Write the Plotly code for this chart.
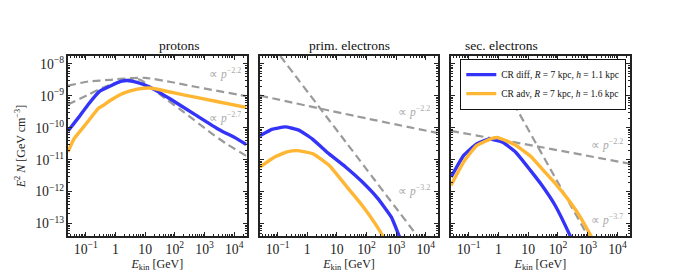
import plotly.graph_objects as go

# ---------------- data (log10 values) ----------------
# protons
pr_diff_logE = [-1.6, -1.248, -0.919, -0.538, -0.153, 0.176, 0.397, 0.726, 1.163, 1.821, 2.643, 3.466, 4.068, 4.403]
pr_diff_logN = [-10.10, -9.681, -9.269, -8.858, -8.681, -8.548, -8.517, -8.579, -8.728, -9.084, -9.563, -10.043, -10.331, -10.523]
pr_adv_logE = [-1.6, -1.403, -0.975, -0.580, -0.416, -0.153, 0.275, 0.736, 1.163, 2.249, 3.367, 4.403]
pr_adv_logN = [-10.755, -10.353, -9.858, -9.393, -9.300, -9.130, -8.913, -8.789, -8.752, -8.960, -9.167, -9.362]
pr_ref22_logE = [-1.6, -0.919, -0.153, 0.505, 0.999, 1.821, 2.643, 4.124, 4.403]
pr_ref22_logN = [-8.681, -8.548, -8.495, -8.443, -8.433, -8.557, -8.706, -8.960, -9.012]
pr_ref27_logE = [-1.6, -0.919, -0.373, 0.176, 0.505, 0.834, 1.591, 2.314, 3.137, 3.696, 4.403]
pr_ref27_logN = [-9.269, -8.960, -8.721, -8.548, -8.480, -8.495, -9.022, -9.517, -10.105, -10.477, -10.879]

# primary electrons
pe_diff_logE = [-1.6, -1.172, -0.745, -0.284, 0.176, 0.736, 1.295, 1.854, 2.380, 2.841, 3.104, 3.203]
pe_diff_logN = [-10.251, -10.043, -9.972, -10.074, -10.353, -10.817, -11.229, -11.693, -12.211, -12.799, -13.387, -13.604]
pe_adv_logE = [-1.6, -1.116, -0.679, -0.350, 0.199, 0.745, 1.295, 1.844, 2.282, 2.545, 2.643]
pe_adv_logN = [-11.229, -10.920, -10.755, -10.715, -10.817, -11.180, -11.799, -12.418, -12.985, -13.387, -13.604]
pe_ref22_logE = [-1.6, 1.624, 4.387]
pe_ref22_logN = [-8.991, -9.632, -10.161]
pe_ref32_logE = [-1.172, 1.295, 3.926]
pe_ref32_logN = [-7.433, -10.437, -13.644]

# secondary electrons
se_diff_logE = [-1.590, -1.172, -0.735, -0.294, 0.143, 0.581, 1.074, 1.459, 1.897, 2.390, 2.479]
se_diff_logN = [-11.539, -10.870, -10.508, -10.353, -10.455, -10.765, -11.334, -11.799, -12.418, -13.347, -13.542]
se_adv_logE = [-1.590, -1.172, -0.735, -0.186, -0.021, 0.571, 1.064, 1.459, 1.886, 2.314, 2.709, 3.104, 3.236]
se_adv_logN = [-11.799, -11.074, -10.560, -10.322, -10.307, -10.539, -10.879, -11.282, -11.715, -12.211, -12.737, -13.387, -13.635]
se_ref22_logE = [-1.6, 1.459, 4.42]
se_ref22_logN = [-10.096, -10.61, -11.127]
se_ref37_logE = [-0.514, 3.268]
se_ref37_logN = [-7.529, -13.830]

panel_titles = ["protons", "prim. electrons", "sec. electrons"]
label_diff = "CR diff, <i>R</i> = 7 kpc, <i>h</i> = 1.1 kpc"
label_adv = "CR adv, <i>R</i> = 7 kpc, <i>h</i> = 1.6 kpc"
ref_labels = [("−2.2", 3.69, -8.29, 1), ("−2.7", 3.69, -9.68, 1),
              ("−2.2", 3.60, -9.48, 2), ("−3.2", 3.60, -11.95, 2),
              ("−2.2", 3.65, -10.51, 3), ("−3.7", 3.65, -12.88, 3)]

# ---------------- style ----------------
BLUE = "#3434f8"
ORANGE = "#ffb632"
GRAY = "#9a9a9a"
FONT = "Liberation Serif, Times New Roman, serif"

def pw(vals):
    return [10 ** v for v in vals]

fig = go.Figure()

panels = [
    (pr_diff_logE, pr_diff_logN, pr_adv_logE, pr_adv_logN,
     [(pr_ref22_logE, pr_ref22_logN), (pr_ref27_logE, pr_ref27_logN)]),
    (pe_diff_logE, pe_diff_logN, pe_adv_logE, pe_adv_logN,
     [(pe_ref22_logE, pe_ref22_logN), (pe_ref32_logE, pe_ref32_logN)]),
    (se_diff_logE, se_diff_logN, se_adv_logE, se_adv_logN,
     [(se_ref22_logE, se_ref22_logN), (se_ref37_logE, se_ref37_logN)]),
]

for i, (dE, dN, aE, aN, refs) in enumerate(panels):
    xa = "x" if i == 0 else f"x{i+1}"
    ya = "y" if i == 0 else f"y{i+1}"
    for rE, rN in refs:
        fig.add_trace(go.Scatter(x=pw(rE), y=pw(rN), mode="lines", xaxis=xa, yaxis=ya,
                                 line=dict(color=GRAY, width=2.2, dash="8px,4.5px", shape="spline", smoothing=0.5),
                                 showlegend=False, hoverinfo="skip"))
    fig.add_trace(go.Scatter(x=pw(dE), y=pw(dN), mode="lines", xaxis=xa, yaxis=ya,
                             line=dict(color=BLUE, width=3.4, shape="spline", smoothing=0.4),
                             name=label_diff, showlegend=(i == 2), legendrank=1))
    fig.add_trace(go.Scatter(x=pw(aE), y=pw(aN), mode="lines", xaxis=xa, yaxis=ya,
                             line=dict(color=ORANGE, width=3.4, shape="spline", smoothing=0.4),
                             name=label_adv, showlegend=(i == 2), legendrank=2))

# page has an 8px body margin: figure is 692x272, placed at (8,8)
OFF = 8
FW, FH = 692, 272
L, T = 56 - OFF, 56 - OFF
R = FW - (630 - OFF)
B = FH - (238 - OFF)
W = 574.0
domains = [[0, 182.5 / W], [196 / W, 378 / W], [391 / W, 1.0]]

axis_common = dict(
    type="log", dtick=1, exponentformat="power", showexponent="all",
    ticks="inside", ticklen=4, tickwidth=1, tickcolor="#222",
    showline=True, linewidth=1.6, linecolor="#222", mirror="ticks",
    showgrid=False, zeroline=False,
    minor=dict(ticks="inside", ticklen=2, tickwidth=0.8, tickcolor="#222", dtick="D1", showgrid=False),
    tickfont=dict(family=FONT, size=11, color="#222"),
)

annotations = []
for i in range(3):
    xk = "xaxis" if i == 0 else f"xaxis{i+1}"
    yk = "yaxis" if i == 0 else f"yaxis{i+1}"
    fig.layout[xk] = dict(axis_common, domain=domains[i], range=[-1.6, 4.42],
                          anchor="y" if i == 0 else f"y{i+1}",
                          title=dict(text="<i>E</i><sub>kin</sub> [GeV]", font=dict(family=FONT, size=12, color="#222"),
                                     standoff=3))
    yd = dict(axis_common, range=[-13.39, -7.75], anchor="x" if i == 0 else f"x{i+1}",
              showticklabels=(i == 0))
    if i == 0:
        yd["title"] = dict(text="<i>E</i><sup>2</sup> <i>N</i> [GeV cm<sup>−3</sup>]",
                           font=dict(family=FONT, size=12, color="#222"), standoff=7)
    fig.layout[yk] = yd
    annotations.append(dict(text=panel_titles[i], xref="paper", yref="paper",
                            x=(domains[i][0] + domains[i][1]) / 2, y=1, yanchor="bottom", yshift=1,
                            showarrow=False, font=dict(family=FONT, size=13.5, color="#111")))

for txt, lx, ly, p in ref_labels:
    annotations.append(dict(text="∝ <i>p</i><sup>" + txt + "</sup>",
                            xref="x" if p == 1 else f"x{p}", yref="y" if p == 1 else f"y{p}",
                            x=lx, y=ly, showarrow=False, xanchor="center", yanchor="middle",
                            font=dict(family=FONT, size=11.5, color="#aaaaaa")))

fig.update_layout(
    width=FW, height=FH,
    margin=dict(l=L, r=R, t=T, b=B),
    plot_bgcolor="white", paper_bgcolor="white",
    font=dict(family=FONT, color="#222"),
    annotations=annotations,
    legend=dict(x=(626 - 56) / W, y=(238 - 59) / 182.0, xanchor="right", yanchor="top",
                bgcolor="white", bordercolor="#111", borderwidth=1.2,
                font=dict(family=FONT, size=9.5, color="#111"), itemwidth=30,
                tracegroupgap=0),
)

fig.write_html("out.html")
